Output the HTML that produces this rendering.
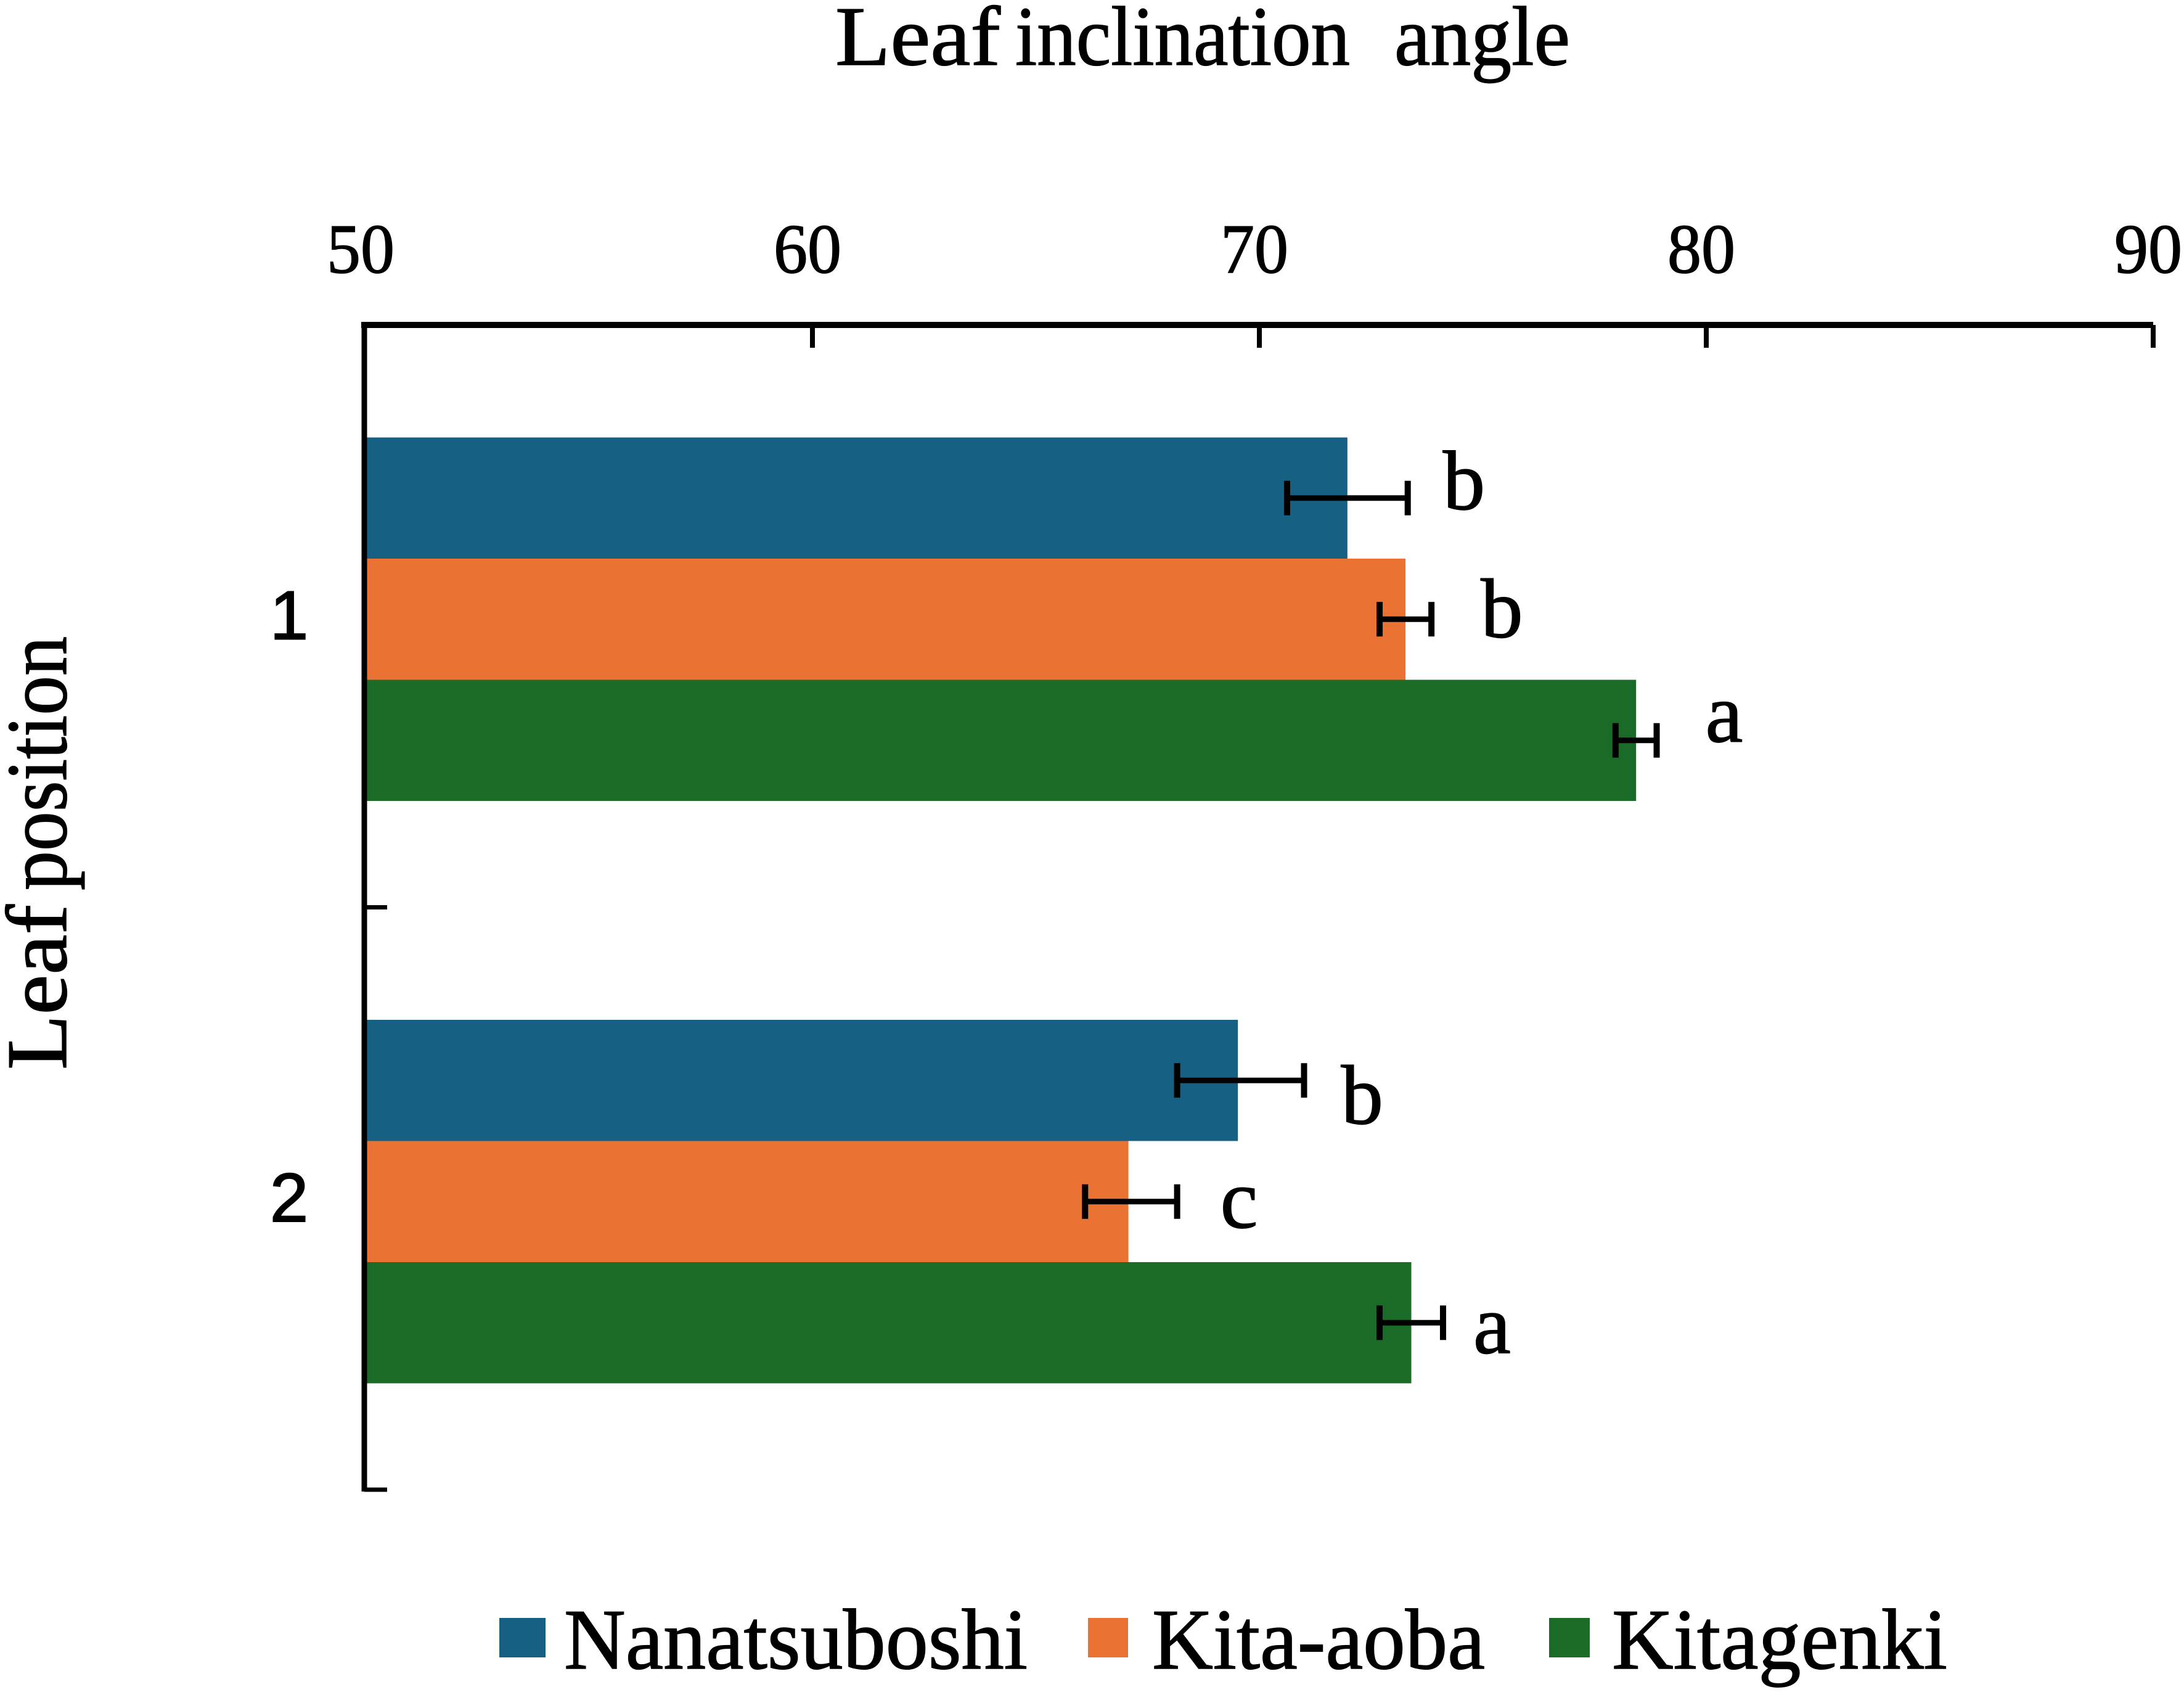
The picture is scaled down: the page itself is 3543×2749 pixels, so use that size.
<!DOCTYPE html>
<html lang="en">
<head>
<meta charset="utf-8">
<title>Leaf inclination angle</title>
<style>
html,body{margin:0;padding:0;background:#fff;width:3543px;height:2749px;overflow:hidden}
svg{display:block}
text{font-family:"Liberation Serif",serif;fill:#000;stroke:#000;stroke-width:1.5px;text-rendering:geometricPrecision;white-space:pre}
</style>
</head>
<body>
<svg id="chart" xmlns="http://www.w3.org/2000/svg" width="3543" height="2749" viewBox="0 0 3543 2749">
  <rect width="3543" height="2749" fill="#ffffff"/>
  <text font-size="137" y="105"><tspan x="1355" textLength="268" lengthAdjust="spacingAndGlyphs">Leaf</tspan> <tspan x="1647" textLength="543" lengthAdjust="spacingAndGlyphs">inclination</tspan> <tspan x="2262" textLength="285" lengthAdjust="spacingAndGlyphs">angle</tspan></text>
  <text font-size="140" transform="translate(107,1735) rotate(-90)"><tspan x="0" textLength="268" lengthAdjust="spacingAndGlyphs">Leaf</tspan> <tspan x="291" textLength="412" lengthAdjust="spacingAndGlyphs">position</tspan></text>
  <g id="plot"></g>
  <g>
    <g>
      <rect x="810" y="2624" width="75" height="64" fill="#166083"/>
      <text x="915" y="2706" font-size="140" textLength="752" lengthAdjust="spacingAndGlyphs">Nanatsuboshi</text>
    </g>
    <g>
      <rect x="1765" y="2624" width="65" height="64" fill="#ea7233"/>
      <text x="1869" y="2706" font-size="140" textLength="540" lengthAdjust="spacingAndGlyphs">Kita-aoba</text>
    </g>
    <g>
      <rect x="2513" y="2624" width="66" height="64" fill="#196b27"/>
      <text x="2615" y="2706" font-size="140" textLength="544" lengthAdjust="spacingAndGlyphs">Kitagenki</text>
    </g>
  </g>
</svg>
<script>
const categories = ["1", "2"];
const xTicks = [50, 60, 70, 80, 90];
const nanatsuboshiValues = [71.97, 69.52];
const kitaAobaValues = [73.27, 67.07];
const kitagenkiValues = [78.43, 73.4];
const nanatsuboshiErrorsLow = [1.35, 1.36];
const nanatsuboshiErrorsHigh = [1.35, 1.48];
const kitaAobaErrorsLow = [0.58, 0.97];
const kitaAobaErrorsHigh = [0.58, 1.09];
const kitagenkiErrorsLow = [0.46, 0.71];
const kitagenkiErrorsHigh = [0.46, 0.71];
const nanatsuboshiLetters = ["b", "b"];
const kitaAobaLetters = ["b", "c"];
const kitagenkiLetters = ["a", "a"];

const svgNS = "http://www.w3.org/2000/svg";
const plot = document.getElementById("plot");
const seriesList = [
  { key: "nanatsuboshi", color: "#166083", values: nanatsuboshiValues, errLow: nanatsuboshiErrorsLow, errHigh: nanatsuboshiErrorsHigh, letters: nanatsuboshiLetters,
    letterDx: [57, 60], letterDy: [18, 70] },
  { key: "kita-aoba", color: "#ea7233", values: kitaAobaValues, errLow: kitaAobaErrorsLow, errHigh: kitaAobaErrorsHigh, letters: kitaAobaLetters,
    letterDx: [80, 70], letterDy: [29, 42] },
  { key: "kitagenki", color: "#196b27", values: kitagenkiValues, errLow: kitagenkiErrorsLow, errHigh: kitagenkiErrorsHigh, letters: kitagenkiLetters,
    letterDx: [79, 49], letterDy: [2, 49] }
];

const xMin = xTicks[0], xMax = xTicks[xTicks.length - 1];
const axisX = 591;
const plotLeft = 593, plotRight = 3493, plotTop = 527, plotBottom = 2416;
const bandHeight = (plotBottom - plotTop) / categories.length;
const barHeight = 196.5;

function xScale(v) { return plotLeft + (v - xMin) / (xMax - xMin) * (plotRight - plotLeft); }
function bandCenter(c) { return plotTop + bandHeight * (c + 0.5) + 5; }
function barTop(c, s) { return bandCenter(c) + (s - seriesList.length / 2) * barHeight; }

function make(tag, attrs) {
  const el = document.createElementNS(svgNS, tag);
  for (const k in attrs) el.setAttribute(k, attrs[k]);
  plot.appendChild(el);
  return el;
}

// bars
seriesList.forEach(function (s, si) {
  categories.forEach(function (cat, ci) {
    const bar = make("rect", { x: axisX, y: barTop(ci, si), width: xScale(s.values[ci]) - axisX, height: barHeight, fill: s.color });
    
    
  });
});

// axes
const topAxis = make("line", { x1: axisX - 5, x2: plotRight, y1: plotTop, y2: plotTop, stroke: "#000", "stroke-width": 10 });


const leftAxis = make("line", { x1: axisX, x2: axisX, y1: plotTop - 5, y2: plotBottom + 3, stroke: "#000", "stroke-width": 9 });



xTicks.forEach(function (t) {
  const x = xScale(t);
  if (t !== xMin) {
    const tick = make("line", { x1: x, x2: x, y1: plotTop, y2: 564, stroke: "#000", "stroke-width": 8 });
    
    
  }
  const label = make("text", { x: x - 8, y: 442, "font-size": 114, "text-anchor": "middle", textLength: 110, lengthAdjust: "spacingAndGlyphs" });
  label.textContent = String(t);
  
  
});

categories.forEach(function (cat, ci) {
  const yTick = plotTop + bandHeight * (ci + 1);
  const tick = make("line", { x1: axisX, x2: 628, y1: yTick, y2: yTick, stroke: "#000", "stroke-width": 7 });
  
  
  const label = make("text", { x: 469, y: bandCenter(ci) + 32, "font-size": 112, "text-anchor": "middle", style: 'font-family:"Liberation Sans",sans-serif;stroke-width:2px' });
  label.textContent = cat;
  
  
});

// error bars and significance letters
seriesList.forEach(function (s, si) {
  categories.forEach(function (cat, ci) {
    const yc = barTop(ci, si) + barHeight / 2;
    const lo = xScale(s.values[ci] - s.errLow[ci]);
    const hi = xScale(s.values[ci] + s.errHigh[ci]);
    const stem = make("line", { x1: lo, x2: hi, y1: yc, y2: yc, stroke: "#000", "stroke-width": 9 });
    
    
    const capLo = make("line", { x1: lo, x2: lo, y1: yc - 28, y2: yc + 28, stroke: "#000", "stroke-width": 10 });
    
    
    const capHi = make("line", { x1: hi, x2: hi, y1: yc - 28, y2: yc + 28, stroke: "#000", "stroke-width": 10 });
    
    
    const letter = make("text", { x: hi + s.letterDx[ci], y: yc + s.letterDy[ci], "font-size": 137 });
    letter.textContent = s.letters[ci];
    
    
  });
});
</script>
</body>
</html>
